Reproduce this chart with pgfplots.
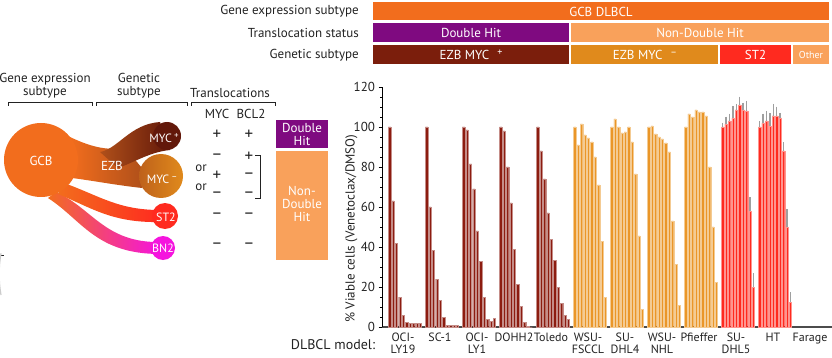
\documentclass[border=0pt]{standalone}
\usepackage{pgfplots}
\pgfplotsset{compat=1.18}
\usepackage{pgfplotstable}
\usepackage{fontspec}
\setmainfont{PT Sans}
\newcommand\fs[1]{\fontsize{#1}{#1}\selectfont}
\definecolor{gcb}{HTML}{F26D1D}
\definecolor{dhpurple}{HTML}{7F0A80}
\definecolor{ndh}{HTML}{F9A15B}
\definecolor{ezbp}{HTML}{7B1E0C}
\definecolor{ezbpbar}{HTML}{8C1C10}
\definecolor{ezbm}{HTML}{E08A1C}
\definecolor{ezbmbar}{HTML}{EA9628}
\definecolor{st2}{HTML}{FF2A1F}
\definecolor{bn2}{HTML}{F514DE}
\definecolor{ezbdark}{HTML}{B0501A}
\definecolor{txt}{HTML}{222222}

\pgfplotstableread{
j ly19 sc1  ly1  dohh toledo fsccl dhl4 nhl  pfi   dhl5  dhl5e ht    hte
0 100  100  100  100  100    100   100  100  100   100   2     100   2.8
1 63   60   98.5 98   88     91    104  100.5 106.5 101.5 3.7  102   4.7
2 42   38.5 81.5 80   74     101.5 100  96.5 105   103   3.7   103   5
3 15   24   69   62   57     96    97   95   108.5 104.5 6     100.5 6.5
4 6    13.5 48   39   44     94.5  97.5 94   107.5 108.5 3     105.5 6
5 2.5  5    33   21.5 33.5   92.5  100  92   107.5 111   4.2   105.5 4.7
6 2    1    15   10.5 20     85    92.5 87.5 105.5 108.5 3.7   104.5 2.5
7 2    1    4    2.5  12     71    76.5 53   80    108   5     88    4.3
8 2    1    3    0.5  6      43    45.5 31.5 50    58    6.8   50    9
9 2    1    4.5  0    4      15    9    11   22.5  20    7     12.5  5
}\viab

\begin{document}
\begin{tikzpicture}
\useasboundingbox (0pt,0pt) rectangle (832pt,-358pt);
\begin{scope}[x=1pt,y=-1pt,every node/.style={inner sep=0pt,text=txt}]
% ---------- header rows ----------
\fill[gcb] (373,2) rectangle (829,20);
\node[text=white,font=\fs{13}] at (601,11.5) {GCB DLBCL};
\fill[dhpurple] (373,23) rectangle (569,42);
\node[text=white,font=\fs{13}] at (471,33) {Double Hit};
\fill[ndh] (571,23) rectangle (829,42);
\node[text=white,font=\fs{13}] at (700,33) {Non-Double Hit};
\fill[ezbp] (373,45) rectangle (569,64);
\node[text=white,font=\fs{13}] at (471,55) {EZB MYC\hspace{8pt}\raisebox{4pt}{\fs{10}+}};
\fill[ezbm] (571,45) rectangle (718,64);
\node[text=white,font=\fs{13}] at (645,55) {EZB MYC\hspace{8pt}\raisebox{4pt}{\fs{10}–}};
\fill[st2] (720,45) rectangle (791,64);
\node[text=white,font=\fs{13}] at (755.5,55) {ST2};
\fill[ndh] (793,45) rectangle (829,64);
\node[text=white,font=\fs{10}] at (811,55) {Other};
\node[anchor=east,font=\fs{13}] at (359,11.5) {Gene expression subtype};
\node[anchor=east,font=\fs{13}] at (359,33) {Translocation status};
\node[anchor=east,font=\fs{13}] at (359,55) {Genetic subtype};
% ---------- left diagram headers ----------
\node[align=center,font=\fs{13}] at (45,86) {Gene expression\\subtype};
\node[align=center,font=\fs{13}] at (139,86) {Genetic\\subtype};
\node[font=\fs{13}] at (230,93) {Translocations};
\draw[txt,line width=0.8pt] (8,106) -- (8,102) -- (92,102) -- (92,106);
\draw[txt,line width=0.8pt] (96,106) -- (96,102) -- (187,102) -- (187,106);
\draw[txt,line width=0.8pt] (191,106) -- (191,102) -- (275,102) -- (275,106);
\node[font=\fs{13}] at (217,114) {MYC};
\node[font=\fs{13}] at (251,114) {BCL2};
% ---------- stalks ----------
\shade[left color=gcb, right color=bn2] (56,192) .. controls (92,208) and (105,243) .. (160,242) -- (160,254) .. controls (96,254) and (82,220) .. (48,198) -- cycle;
\shade[left color=gcb, right color=st2] (64,183) .. controls (100,196) and (118,210) .. (160,210) -- (160,222) .. controls (112,223) and (92,208) .. (58,194) -- cycle;
\shade[left color=gcb, right color=ezbdark] (70,137) .. controls (95,149) and (110,150) .. (125,148) -- (142,168) -- (142,188) .. controls (115,185) and (95,181) .. (72,178) -- cycle;
\shade[left color=ezbdark, right color=ezbp!80!black] (100,152) .. controls (118,149) and (130,124) .. (160,122) -- (170,150) .. controls (150,152) and (135,162) .. (118,168) -- cycle;
\fill[ezbp!80!black] (167,136) circle (14);
\shade[left color=ezbdark!70!ezbm, right color=ezbm] (161,176) circle (22);
\fill[st2] (165,216) circle (13);
\fill[bn2] (163,248) circle (12);
\fill[gcb] (41,160) circle (37);
\node[text=white,font=\fs{13}] at (41,161) {GCB};
\node[text=white,font=\fs{13}] at (112,166) {EZB};
\node[text=white,font=\fs{12}] at (164,138) {MYC\,\raisebox{4pt}{\fs{9}+}};
\node[text=white,font=\fs{12}] at (162,179) {MYC\,\raisebox{4pt}{\fs{9}–}};
\node[text=white,font=\fs{12}] at (166,217) {ST2};
\node[text=white,font=\fs{12}] at (163,248.5) {BN2};
% ---------- signs ----------
\node[font=\fs{17}] at (217,135) {+};
\node[font=\fs{17}] at (249,135) {+};
\node[font=\fs{17}] at (217,157) {–};
\node[font=\fs{17}] at (249,157) {+};
\node[font=\fs{17}] at (217,176) {+};
\node[font=\fs{17}] at (249,176) {–};
\node[font=\fs{17}] at (217,195) {–};
\node[font=\fs{17}] at (249,195) {–};
\node[font=\fs{13}] at (201,168) {or};
\node[font=\fs{13}] at (201,187) {or};
\draw[txt,line width=0.8pt] (255,155) -- (260,155) -- (260,198) -- (255,198);
\node[font=\fs{17}] at (217,216) {–};
\node[font=\fs{17}] at (249,216) {–};
\node[font=\fs{17}] at (217,246) {–};
\node[font=\fs{17}] at (249,246) {–};
% ---------- DH boxes ----------
\fill[dhpurple] (276,120) rectangle (328,148);
\node[text=white,align=center,font=\fs{13}] at (302,134) {Double\\Hit};
\fill[ndh] (276,151) rectangle (328,260);
\node[text=white,align=center,font=\fs{13}] at (302,204) {Non-\\Double\\Hit};
% ---------- misc ----------
\draw[txt,line width=0.8pt] (0,255) -- (4,255);
\draw[gray!40,line width=1.2pt] (1,295) arc[start angle=170,end angle=190,radius=120];
\node[font=\fs{14}] at (333,345) {DLBCL model:};
\end{scope}

\begin{axis}[
  at={(382pt,-327pt)}, anchor=south west, scale only axis,
  width=450pt, height=240pt,
  xmin=-0.62, xmax=11.54, ymin=0, ymax=120,
  axis x line*=bottom, axis y line*=left,
  x axis line style={draw=black!70, line width=1.3pt},
  y axis line style={draw=black, line width=0.7pt},
  ytick={0,20,...,120}, minor y tick num=3,
  tick align=outside, major tick length=3.5pt, minor tick length=2pt,
  ytick style={black, line width=0.6pt},
  xtick={0,...,11},
  major x tick style={draw=none},
  xticklabels={OCI-\\LY19, SC-1, OCI-\\LY1, DOHH2, Toledo, WSU-\\FSCCL, SU-\\DHL4, WSU-\\NHL, Pfieffer, SU-\\DHL5, HT, Farage},
  xticklabel style={align=center, anchor=north, font=\fontsize{12}{11.5}\selectfont, text=txt, xshift=-2pt, yshift=1pt},
  yticklabel style={font=\fs{13}, text=txt},
  /pgf/number format/assume math mode=true,
  ylabel={\% Viable cells (Venetoclax/DMSO)},
  ylabel style={at={(axis description cs:-0.068,0.41)}, anchor=center, font=\fs{13}, text=txt},
  clip=false,
]
\addplot[ybar, bar shift=0pt, bar width=0.062, fill=ezbpbar, draw=ezbpbar!50!white, line width=0.2pt] table[x expr=\thisrow{j}*0.092-0.414+0, y=ly19] {\viab};
\addplot[ybar, bar shift=0pt, bar width=0.062, fill=ezbpbar, draw=ezbpbar!50!white, line width=0.2pt] table[x expr=\thisrow{j}*0.092-0.414+1, y=sc1] {\viab};
\addplot[ybar, bar shift=0pt, bar width=0.062, fill=ezbpbar, draw=ezbpbar!50!white, line width=0.2pt] table[x expr=\thisrow{j}*0.092-0.414+2, y=ly1] {\viab};
\addplot[ybar, bar shift=0pt, bar width=0.062, fill=ezbpbar, draw=ezbpbar!50!white, line width=0.2pt] table[x expr=\thisrow{j}*0.092-0.414+3, y=dohh] {\viab};
\addplot[ybar, bar shift=0pt, bar width=0.062, fill=ezbpbar, draw=ezbpbar!50!white, line width=0.2pt] table[x expr=\thisrow{j}*0.092-0.414+4, y=toledo] {\viab};
\addplot[ybar, bar shift=0pt, bar width=0.062, fill=ezbmbar, draw=ezbmbar!50!white, line width=0.2pt] table[x expr=\thisrow{j}*0.092-0.414+5, y=fsccl] {\viab};
\addplot[ybar, bar shift=0pt, bar width=0.062, fill=ezbmbar, draw=ezbmbar!50!white, line width=0.2pt] table[x expr=\thisrow{j}*0.092-0.414+6, y=dhl4] {\viab};
\addplot[ybar, bar shift=0pt, bar width=0.062, fill=ezbmbar, draw=ezbmbar!50!white, line width=0.2pt] table[x expr=\thisrow{j}*0.092-0.414+7, y=nhl] {\viab};
\addplot[ybar, bar shift=0pt, bar width=0.062, fill=ezbmbar, draw=ezbmbar!50!white, line width=0.2pt] table[x expr=\thisrow{j}*0.092-0.414+8, y=pfi] {\viab};
\addplot[ybar, bar shift=0pt, bar width=0.062, fill=st2, draw=st2!50!white, line width=0.2pt,
  error bars/.cd, y dir=plus, y explicit, error mark=none, error bar style={line width=1.3pt, gray!75}]
  table[x expr=\thisrow{j}*0.092-0.414+9, y=dhl5, y error=dhl5e] {\viab};
\addplot[ybar, bar shift=0pt, bar width=0.062, fill=st2, draw=st2!50!white, line width=0.2pt,
  error bars/.cd, y dir=plus, y explicit, error mark=none, error bar style={line width=1.3pt, gray!75}]
  table[x expr=\thisrow{j}*0.092-0.414+10, y=ht, y error=hte] {\viab};
\end{axis}
\end{tikzpicture}
\end{document}
